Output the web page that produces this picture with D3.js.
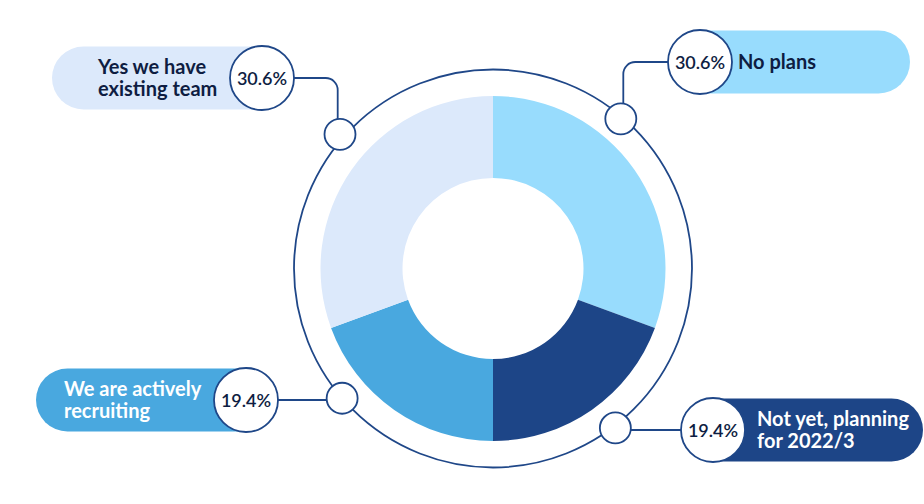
<!DOCTYPE html>
<html><head><meta charset="utf-8">
<script src="https://cdn.jsdelivr.net/npm/d3@7"></script>
<style>html,body{margin:0;padding:0;background:#fff;}svg{display:block;}</style>
</head><body>
<svg id="chart" width="924" height="504"></svg>
<script>
// ---- data ----
const categories = ["No plans", "Not yet, planning for 2022/3", "We are actively recruiting", "Yes we have existing team"];
const labelLines = [["No plans"], ["Not yet, planning", "for 2022/3"], ["We are actively", "recruiting"], ["Yes we have", "existing team"]];
const values = [30.6, 19.4, 19.4, 30.6];

// ---- style / layout ----
const colors = ["#98dcfd", "#1d4587", "#49a8df", "#dce9fb"];
const textColors = ["#0e1d42", "#ffffff", "#ffffff", "#0e1d42"];
const navy = "#1f4788";
const cx = 493, cy = 268.5, rOuter = 172.5, rInner = 90.5, rRing = 199;
// marker angle (deg, clockwise from top) and distance from centre, percent-circle centre, connector x, pill side
const layout = [
  {ang: 40.5,  dist: 196.8, px: 700, py: 62,  lx: 623.3, side: "right"},
  {ang: 142.5, dist: 201,   px: 713, py: 430, lx: null,  side: "right"},
  {ang: 229.3, dist: 199,   px: 246, py: 400, lx: null,  side: "left"},
  {ang: 311.25,dist: 203.5, px: 262, py: 78,  lx: 337.7, side: "left"}
];
const textX = [738, 757, 64, 98];
const pillLen = 210, pillH = 63, pcR = 32, mR = 15.5;

const svg = d3.select("#chart");
const font = "Lato, 'Open Sans', sans-serif";

const pie = d3.pie().sort(null).value(d => d)(values);
const arc = d3.arc().innerRadius(rInner).outerRadius(rOuter);

const g = svg.append("g").attr("transform", `translate(${cx},${cy})`);
g.selectAll("path.slice").data(pie).join("path")
  .attr("class", "slice").attr("d", arc).attr("fill", (d, i) => colors[i]);

// ring
svg.append("circle").attr("cx", cx).attr("cy", cy).attr("r", rRing)
  .attr("fill", "none").attr("stroke", navy).attr("stroke-width", 1.8);

const rad = a => a * Math.PI / 180;
const markers = layout.map(l => ({x: cx + l.dist * Math.sin(rad(l.ang)), y: cy - l.dist * Math.cos(rad(l.ang))}));

// pills
layout.forEach((l, i) => {
  const x0 = l.side === "right" ? l.px - pillH / 2 : l.px - pillLen;
  svg.append("rect").attr("x", x0).attr("y", l.py - pillH / 2)
    .attr("width", pillLen + pillH / 2).attr("height", pillH)
    .attr("rx", pillH / 2).attr("fill", colors[i]);
});

// connectors
layout.forEach((l, i) => {
  const m = markers[i];
  const p = d3.path();
  const rc = 12;
  if (l.lx === null) {
    p.moveTo(m.x, l.py); p.lineTo(l.px, l.py);
  } else {
    p.moveTo(l.lx, m.y);
    const dirX = l.px > l.lx ? 1 : -1;
    p.arcTo(l.lx, l.py, l.lx + dirX * rc, l.py, rc);
    p.lineTo(l.px, l.py);
  }
  svg.append("path").attr("d", p.toString()).attr("fill", "none")
    .attr("stroke", navy).attr("stroke-width", 1.8);
});

// markers
svg.selectAll("circle.marker").data(markers).join("circle").attr("class", "marker")
  .attr("cx", d => d.x).attr("cy", d => d.y).attr("r", mR)
  .attr("fill", "#fff").attr("stroke", navy).attr("stroke-width", 1.8);

// percent circles
layout.forEach((l, i) => {
  svg.append("circle").attr("cx", l.px).attr("cy", l.py).attr("r", pcR)
    .attr("fill", "#fff").attr("stroke", navy).attr("stroke-width", 1.8);
  svg.append("text").attr("x", l.px).attr("y", l.py + 7)
    .attr("text-anchor", "middle").attr("font-family", font)
    .attr("font-size", 18).attr("font-weight", 600).attr("fill", "#0e1d42")
    .text(d3.format(".1f")(values[i]) + "%");
});

// labels (one text element per line)
layout.forEach((l, i) => {
  const lines = labelLines[i];
  const lh = 21.5;
  const y0 = l.py + 7 - (lines.length - 1) * lh / 2;
  lines.forEach((s, k) => svg.append("text").attr("font-family", font).attr("font-size", 20)
    .attr("font-weight", 700).attr("fill", textColors[i])
    .attr("x", textX[i]).attr("y", y0 + k * lh).text(s));
});
</script>
</body></html>
